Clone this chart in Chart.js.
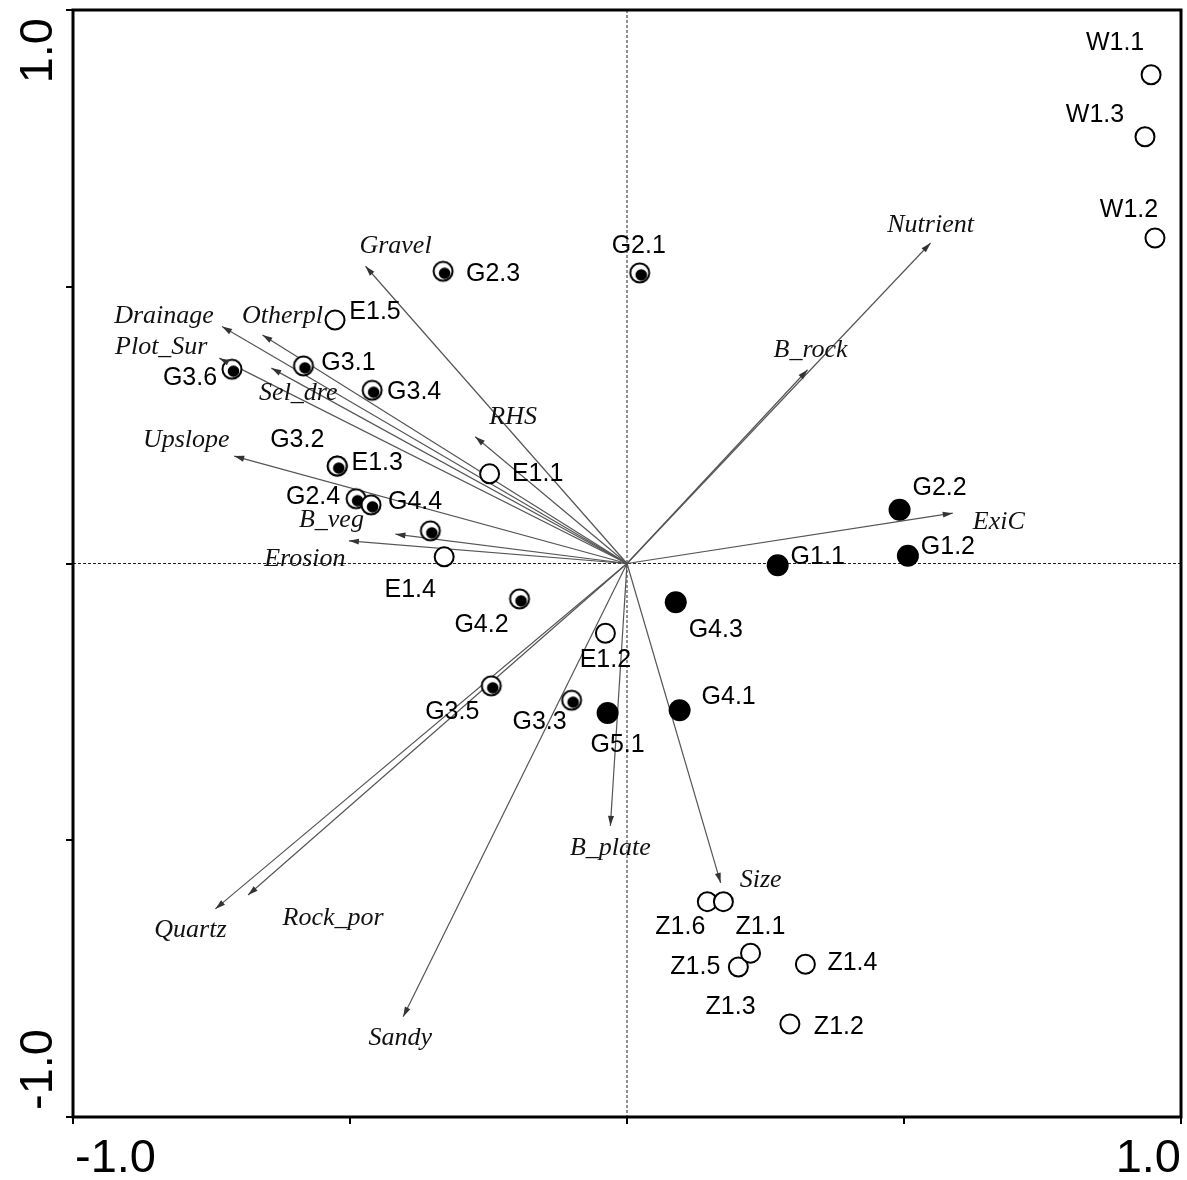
<!DOCTYPE html>
<html lang="en">
<head>
    <meta charset="UTF-8">
    <title>Ordination biplot</title>
    <script src="https://cdn.jsdelivr.net/npm/chart.js"></script>
    <style>
        body {
            margin: 0;
            padding: 0;
            background: #fff;
        }
        canvas {
            display: block;
        }
    </style>
</head>
<body>
    <canvas id="biplot" width="1187" height="1180"></canvas>

    <script>
        // Sites drawn as open circles
        const openSites = ['W1.1', 'W1.3', 'W1.2', 'E1.5', 'E1.3', 'E1.1', 'E1.4', 'E1.2',
                           'Z1.6', 'Z1.1', 'Z1.5', 'Z1.3', 'Z1.4', 'Z1.2'];
        const openX = [0.946, 0.935, 0.953, -0.527, -0.523, -0.248, -0.330, -0.039,
                       0.145, 0.174, 0.201, 0.223, 0.322, 0.294];
        const openY = [0.883, 0.771, 0.588, 0.440, 0.176, 0.162, 0.012, -0.126,
                       -0.611, -0.611, -0.729, -0.704, -0.724, -0.832];

        // Sites drawn as circle with a dot inside
        const dotSites = ['G2.1', 'G2.3', 'G3.1', 'G3.6', 'G3.4', 'G3.2', 'G2.4', 'G4.4', '',
                          'G4.2', 'G3.5', 'G3.3'];
        const dotX = [0.023, -0.332, -0.584, -0.713, -0.460, -0.523, -0.489, -0.462, -0.355,
                      -0.194, -0.245, -0.100];
        const dotY = [0.525, 0.528, 0.357, 0.351, 0.313, 0.176, 0.117, 0.106, 0.059,
                      -0.064, -0.221, -0.247];

        // Sites drawn as filled circles
        const filledSites = ['G4.3', 'G1.1', 'G1.2', 'G2.2', 'G5.1', 'G4.1'];
        const filledX = [0.088, 0.272, 0.507, 0.492, -0.035, 0.095];
        const filledY = [-0.070, -0.003, 0.014, 0.097, -0.270, -0.265];

        // Environmental variables (arrow tips)
        const envVars = ['Nutrient', 'B_rock', 'ExiC', 'Gravel', 'RHS', 'Drainage', 'Otherpl',
                         'Plot_Sur', 'Sel_dre', 'Upslope', 'B_veg', 'Erosion', 'Quartz',
                         'Rock_por', 'Sandy', 'B_plate', 'Size'];
        const envX = [0.548, 0.326, 0.588, -0.472, -0.274, -0.731, -0.658, -0.736, -0.642,
                      -0.709, -0.418, -0.502, -0.743, -0.684, -0.404, -0.030, 0.169];
        const envY = [0.579, 0.350, 0.091, 0.537, 0.229, 0.428, 0.413, 0.371, 0.353,
                      0.194, 0.053, 0.041, -0.624, -0.599, -0.819, -0.474, -0.577];

        const axisTicks = [-1, -0.5, 0, 0.5, 1];
        const axisLabels = ['-1.0', '', '', '', '1.0'];

        // label placement: pixel offset of the label centre from its mark
        const siteLabelOffset = {
            'W1.1': [-36, -32], 'W1.3': [-50, -22], 'W1.2': [-26, -28],
            'E1.5': [40, -8], 'E1.3': [40, -3], 'E1.1': [48, 0], 'E1.4': [-34, 33], 'E1.2': [0, 27],
            'Z1.6': [-27, 25], 'Z1.1': [37, 25], 'Z1.5': [-43, 0], 'Z1.3': [-20, 54],
            'Z1.4': [47, -1], 'Z1.2': [49, 3],
            'G2.1': [-1, -27], 'G2.3': [50, 3], 'G3.1': [45, -3], 'G3.6': [-42, 9],
            'G3.4': [42, 2], 'G3.2': [-40, -26], 'G2.4': [-43, -2], 'G4.4': [44, -3],
            'G4.2': [-38, 26], 'G3.5': [-39, 26], 'G3.3': [-32, 22],
            'G4.3': [40, 28], 'G1.1': [40, -8], 'G1.2': [40, -9], 'G2.2': [40, -22],
            'G5.1': [10, 32], 'G4.1': [49, -13]
        };
        const envLabelOffset = {
            'Nutrient': [0, -18], 'B_rock': [3, -20], 'ExiC': [46, 9], 'Gravel': [30, -20],
            'RHS': [38, -20], 'Drainage': [-58, -10], 'Otherpl': [20, -19], 'Plot_Sur': [-58, -11],
            'Sel_dre': [27, 25], 'Upslope': [-48, -16], 'B_veg': [-64, -14], 'Erosion': [-44, 18],
            'Quartz': [-25, 21], 'Rock_por': [85, 23], 'Sandy': [-3, 21], 'B_plate': [0, 22],
            'Size': [40, -3]
        };

        const toPoints = (xs, ys) => xs.map((x, i) => ({ x: x, y: ys[i] }));

        // circle with a black dot slightly off centre
        const dotMarker = document.createElement('canvas');
        dotMarker.width = 26;
        dotMarker.height = 26;
        (function () {
            const c = dotMarker.getContext('2d');
            c.beginPath();
            c.arc(13, 13, 9.5, 0, Math.PI * 2);
            c.fillStyle = '#fff';
            c.fill();
            c.lineWidth = 2;
            c.strokeStyle = '#000';
            c.stroke();
            c.beginPath();
            c.arc(14.5, 15, 5.8, 0, Math.PI * 2);
            c.fillStyle = '#000';
            c.fill();
        })();

        const datasets = [
            {
                label: 'filled',
                data: toPoints(filledX, filledY),
                names: filledSites,
                pointRadius: 11,
                pointBackgroundColor: '#000',
                pointBorderColor: '#000',
                pointBorderWidth: 0
            },
            {
                label: 'dotted',
                data: toPoints(dotX, dotY),
                names: dotSites,
                pointStyle: dotMarker,
                pointRadius: 10
            },
            {
                label: 'open',
                data: toPoints(openX, openY),
                names: openSites,
                pointRadius: 9.5,
                pointBackgroundColor: '#fff',
                pointBorderColor: '#000',
                pointBorderWidth: 2
            }
        ];

        envVars.forEach((name, i) => {
            datasets.push({
                label: name,
                isArrow: true,
                data: [{ x: 0, y: 0 }, { x: envX[i], y: envY[i] }],
                showLine: true,
                borderColor: '#555',
                borderWidth: 1.2,
                pointRadius: 0
            });
        });

        const biplotExtras = {
            id: 'biplotExtras',
            beforeDatasetsDraw(chart) {
                const { ctx, chartArea: a, scales } = chart;
                const x0 = scales.x.getPixelForValue(0);
                const y0 = scales.y.getPixelForValue(0);
                ctx.save();
                ctx.strokeStyle = '#222';
                ctx.lineWidth = 1;
                ctx.setLineDash([3, 2]);
                ctx.beginPath();
                ctx.moveTo(x0, a.top);
                ctx.lineTo(x0, a.bottom);
                ctx.moveTo(a.left, y0);
                ctx.lineTo(a.right, y0);
                ctx.stroke();
                ctx.restore();
            },
            afterDatasetsDraw(chart) {
                const { ctx, chartArea: a, scales } = chart;
                ctx.save();

                // arrow heads and variable names
                chart.data.datasets.forEach(ds => {
                    if (!ds.isArrow) return;
                    const tip = ds.data[1];
                    const px = scales.x.getPixelForValue(tip.x);
                    const py = scales.y.getPixelForValue(tip.y);
                    const ox = scales.x.getPixelForValue(0);
                    const oy = scales.y.getPixelForValue(0);
                    const ang = Math.atan2(py - oy, px - ox);
                    ctx.fillStyle = '#333';
                    ctx.beginPath();
                    ctx.moveTo(px, py);
                    ctx.lineTo(px - 10 * Math.cos(ang) + 3 * Math.sin(ang), py - 10 * Math.sin(ang) - 3 * Math.cos(ang));
                    ctx.lineTo(px - 10 * Math.cos(ang) - 3 * Math.sin(ang), py - 10 * Math.sin(ang) + 3 * Math.cos(ang));
                    ctx.closePath();
                    ctx.fill();

                    const off = envLabelOffset[ds.label] || [0, -15];
                    ctx.font = 'italic 26px "Liberation Serif", "Times New Roman", serif';
                    ctx.fillStyle = '#111';
                    ctx.textAlign = 'center';
                    ctx.textBaseline = 'middle';
                    ctx.fillText(ds.label, px + off[0], py + off[1]);
                });

                // site names
                ctx.font = '25px "Liberation Sans", Arial, sans-serif';
                ctx.fillStyle = '#000';
                ctx.textAlign = 'center';
                ctx.textBaseline = 'middle';
                chart.data.datasets.forEach(ds => {
                    if (!ds.names) return;
                    ds.data.forEach((p, j) => {
                        const name = ds.names[j];
                        if (!name) return;
                        const off = siteLabelOffset[name] || [40, 0];
                        ctx.fillText(name, scales.x.getPixelForValue(p.x) + off[0],
                                     scales.y.getPixelForValue(p.y) + off[1]);
                    });
                });

                // frame
                ctx.strokeStyle = '#000';
                ctx.lineWidth = 3;
                ctx.strokeRect(a.left, a.top, a.right - a.left, a.bottom - a.top);

                // axis numbers
                ctx.font = '47px "Liberation Sans", Arial, sans-serif';
                ctx.textBaseline = 'alphabetic';
                axisTicks.forEach((v, k) => {
                    const txt = axisLabels[k];
                    if (!txt) return;
                    const xp = scales.x.getPixelForValue(v);
                    ctx.textAlign = v < 0 ? 'left' : 'right';
                    ctx.fillText(txt, xp + (v < 0 ? 2 : 0), a.bottom + 55);

                    const yp = scales.y.getPixelForValue(v);
                    ctx.save();
                    ctx.translate(a.left - 21, v > 0 ? yp + 8 : yp - 7);
                    ctx.rotate(-Math.PI / 2);
                    ctx.textAlign = v > 0 ? 'right' : 'left';
                    ctx.fillText(txt, 0, 0);
                    ctx.restore();
                });
                ctx.restore();
            }
        };

        const axisOpts = {
            type: 'linear',
            min: -1,
            max: 1,
            afterBuildTicks: scale => {
                scale.ticks = axisTicks.map(v => ({ value: v }));
            },
            ticks: { display: false },
            border: { display: false },
            grid: {
                drawOnChartArea: false,
                drawTicks: true,
                tickLength: 7,
                color: '#000',
                lineWidth: 2
            }
        };

        new Chart(document.getElementById('biplot').getContext('2d'), {
            type: 'scatter',
            data: { datasets: datasets },
            options: {
                responsive: false,
                animation: false,
                devicePixelRatio: 1,
                layout: {
                    autoPadding: false,
                    padding: { left: 66, right: 6, top: 10, bottom: 56 }
                },
                plugins: {
                    legend: { display: false },
                    tooltip: { enabled: false }
                },
                scales: {
                    x: Object.assign({ position: 'bottom' }, axisOpts),
                    y: Object.assign({ position: 'left' }, axisOpts)
                }
            },
            plugins: [biplotExtras]
        });
    </script>
</body>
</html>
